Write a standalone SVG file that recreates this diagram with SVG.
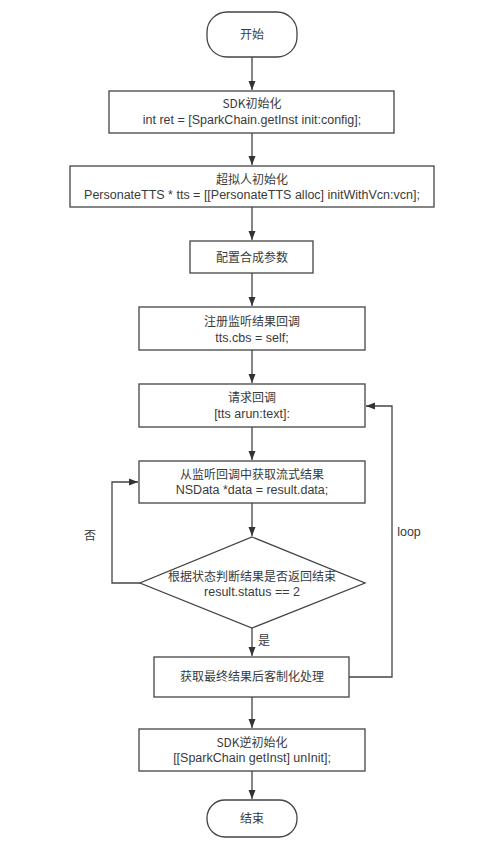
<svg xmlns="http://www.w3.org/2000/svg" width="487" height="852" viewBox="0 0 487 852">
<style>
.n{fill:#fff;stroke:#444;stroke-width:1.3}
.t{font-family:"Noto Sans CJK SC","Noto Sans",sans-serif;font-size:12px;fill:#3a3a3a;text-anchor:middle}
.l{font-family:"Liberation Sans","Arial",sans-serif;font-size:12.5px;fill:#3a3a3a;text-anchor:middle}
.c{fill:none;stroke:#444;stroke-width:1.3}
</style>
<defs>
<marker id="a" markerWidth="10" markerHeight="10" refX="9" refY="5" orient="auto" markerUnits="userSpaceOnUse">
<path d="M0,1.5 L9,5 L0,8.5 Z" fill="#333"/>
</marker>
</defs>
<rect width="487" height="852" fill="#fff"/>
<g id="connectors">
<path class="c" d="M252,57 V90" marker-end="url(#a)"/>
<path class="c" d="M252,133 V165" marker-end="url(#a)"/>
<path class="c" d="M252,207 V240" marker-end="url(#a)"/>
<path class="c" d="M252,273 V306" marker-end="url(#a)"/>
<path class="c" d="M252,350 V383" marker-end="url(#a)"/>
<path class="c" d="M252,427 V460" marker-end="url(#a)"/>
<path class="c" d="M252,503 V536" marker-end="url(#a)"/>
<path class="c" d="M252,628 V656" marker-end="url(#a)"/>
<path class="c" d="M252,697 V728" marker-end="url(#a)"/>
<path class="c" d="M252,771 V799" marker-end="url(#a)"/>
<path class="c" d="M140,583 H112 V482 H138" marker-end="url(#a)"/>
<path class="c" d="M349,677 H392 V406 H366" marker-end="url(#a)"/>
<text class="t" x="90" y="540">否</text>
<text class="l" x="409" y="536">loop</text>
<text class="t" x="264" y="645">是</text>
</g>
<g id="start">
<rect class="n" x="207" y="12" width="90" height="45" rx="20"/>
<text class="t" x="252" y="39">开始</text>
</g>
<g id="sdk-init">
<rect class="n" x="109" y="91" width="285" height="42"/>
<text class="t" x="252" y="108">SDK初始化</text>
<text class="l" x="252" y="123.5">int ret = [SparkChain.getInst init:config];</text>
</g>
<g id="tts-init">
<rect class="n" x="70" y="166" width="364" height="41"/>
<text class="t" x="252" y="183.5">超拟人初始化</text>
<text class="l" x="252" y="198.5">PersonateTTS * tts = [[PersonateTTS alloc] initWithVcn:vcn];</text>
</g>
<g id="config">
<rect class="n" x="190" y="241" width="123" height="32"/>
<text class="t" x="252" y="262">配置合成参数</text>
</g>
<g id="register">
<rect class="n" x="139" y="307" width="226" height="43"/>
<text class="t" x="252" y="326">注册监听结果回调</text>
<text class="l" x="252" y="341.5">tts.cbs = self;</text>
</g>
<g id="request">
<rect class="n" x="139" y="384" width="226" height="43"/>
<text class="t" x="252" y="402">请求回调</text>
<text class="l" x="252" y="417.5">[tts arun:text]:</text>
</g>
<g id="fetch">
<rect class="n" x="139" y="461" width="226" height="42"/>
<text class="t" x="252" y="478.5">从监听回调中获取流式结果</text>
<text class="l" x="252" y="493.5">NSData *data = result.data;</text>
</g>
<g id="decision">
<polygon class="n" points="252,537 365,583 252,628 140,583"/>
<text class="t" x="252" y="580.5">根据状态判断结果是否返回结束</text>
<text class="l" x="252" y="595.5">result.status == 2</text>
</g>
<g id="final">
<rect class="n" x="154" y="657" width="195" height="40"/>
<text class="t" x="252" y="681">获取最终结果后客制化处理</text>
</g>
<g id="sdk-uninit">
<rect class="n" x="139" y="729" width="226" height="42"/>
<text class="t" x="252" y="746.5">SDK逆初始化</text>
<text class="l" x="252" y="761.5">[[SparkChain getInst] unInit];</text>
</g>
<g id="end">
<rect class="n" x="207" y="800" width="90" height="37" rx="18"/>
<text class="t" x="252" y="823">结束</text>
</g>
</svg>
